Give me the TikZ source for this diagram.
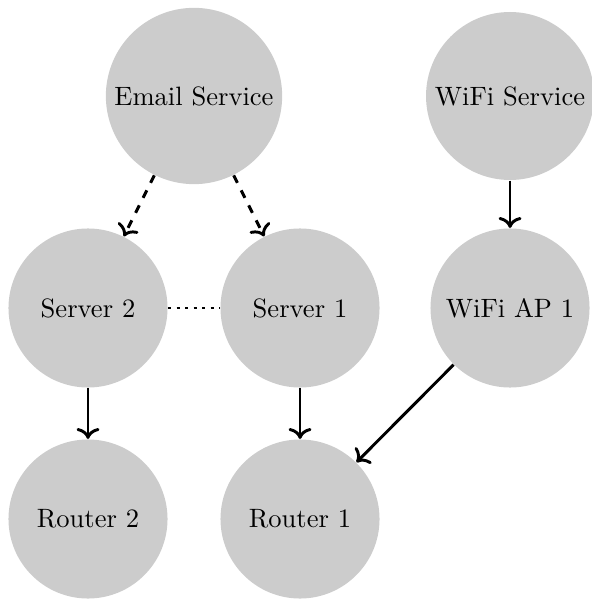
\documentclass[tikz,border=0pt]{standalone}
\usetikzlibrary{arrows.meta}
\begin{document}
\begin{tikzpicture}[x=0.3578pt, y=-0.3578pt,
  svc/.style={circle, fill=black!20, minimum size=2cm, inner sep=2.6pt,
    font=\fontsize{9.5}{11}\selectfont},
  link/.style={line width=1.05pt, ->},
  backup/.style={line width=1.05pt, dashed, ->},
  peer/.style={line width=1.05pt, dotted}]
  \useasboundingbox (0,0) rectangle (591,599);
  % services (top row)
  \node[svc] (email) at (194,96) {Email Service};
  \node[svc] (wifi)  at (510,96) {WiFi Service};
  % servers and access point (middle row)
  \node[svc] (s2) at (88,308)  {Server 2};
  \node[svc] (s1) at (300,308) {Server 1};
  \node[svc] (ap) at (510,308) {WiFi AP 1};
  % routers (bottom row)
  \node[svc] (r2) at (88,519)  {Router 2};
  \node[svc] (r1) at (300,519) {Router 1};
  % connections
  \draw[backup] (email) -- (s2);
  \draw[backup] (email) -- (s1);
  \draw[peer] (s2) -- (s1);
  \draw[link] (wifi) -- (ap);
  \draw[link] (s2) -- (r2);
  \draw[link] (s1) -- (r1);
  \draw[link] (ap) -- (r1);
\end{tikzpicture}
\end{document}
